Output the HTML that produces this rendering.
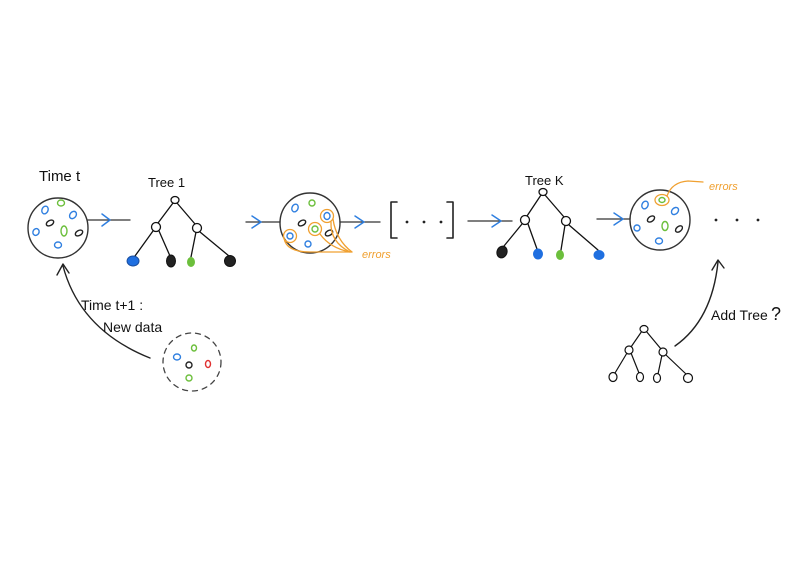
<!DOCTYPE html>
<html><head><meta charset="utf-8"><style>
html,body{margin:0;padding:0;background:#fff;}
svg{display:block;}
text{font-family:"Liberation Sans",sans-serif;}
</style></head><body>
<svg width="800" height="568" viewBox="0 0 800 568" xmlns="http://www.w3.org/2000/svg">
<rect width="800" height="568" fill="#fff"/>
<g fill="none" stroke-linecap="round" stroke-linejoin="round">
<!-- Circle 1 -->
<circle cx="58" cy="228" r="30" stroke="#333" stroke-width="1.4"/>
<g stroke-width="1.4">
<ellipse cx="45" cy="210" rx="3" ry="4" stroke="#2f7fe0" transform="rotate(25 45 210)"/>
<ellipse cx="61" cy="203" rx="3.5" ry="3" stroke="#6cbf3c"/>
<ellipse cx="73" cy="215" rx="3" ry="4" stroke="#2f7fe0" transform="rotate(40 73 215)"/>
<ellipse cx="50" cy="223" rx="4" ry="2.5" stroke="#222" transform="rotate(-30 50 223)"/>
<ellipse cx="64" cy="231" rx="3" ry="5" stroke="#6cbf3c"/>
<ellipse cx="79" cy="233" rx="4" ry="2.5" stroke="#222" transform="rotate(-30 79 233)"/>
<ellipse cx="36" cy="232" rx="3" ry="3.5" stroke="#2f7fe0" transform="rotate(30 36 232)"/>
<ellipse cx="58" cy="245" rx="3.5" ry="3" stroke="#2f7fe0"/>
</g>
<!-- connector 1 -->
<line x1="88" y1="220" x2="130" y2="220" stroke="#333" stroke-width="1.3"/>
<polyline points="102,214 110,220 102,226" stroke="#2f7fe0" stroke-width="1.5"/>
<!-- Tree 1 -->
<g stroke="#111" stroke-width="1.3">
<line x1="173" y1="203" x2="158" y2="223"/>
<line x1="177" y1="203" x2="195" y2="224"/>
<line x1="153" y1="231" x2="135" y2="256"/>
<line x1="159" y1="231" x2="170" y2="256"/>
<line x1="196" y1="232" x2="191" y2="257"/>
<line x1="200" y1="232" x2="229" y2="256"/>
<ellipse cx="175" cy="200" rx="4" ry="3.5" fill="#fff"/>
<ellipse cx="156" cy="227" rx="4.5" ry="4.5" fill="#fff"/>
<ellipse cx="197" cy="228" rx="4.5" ry="4.5" fill="#fff"/>
</g>
<ellipse cx="133" cy="261" rx="6" ry="5" fill="#1f6fe0" stroke="#1a4fa0" stroke-width="1"/>
<ellipse cx="171" cy="261" rx="4.5" ry="6" fill="#222" stroke="#111"/>
<ellipse cx="191" cy="262" rx="4" ry="5" fill="#6cbf3c"/>
<ellipse cx="230" cy="261" rx="5.5" ry="5.5" fill="#222" stroke="#111"/>
<!-- connector 2 -->
<line x1="246" y1="222" x2="280" y2="222" stroke="#333" stroke-width="1.3"/>
<polyline points="252,216 261,222 252,228" stroke="#2f7fe0" stroke-width="1.5"/>
<!-- Circle 2 -->
<circle cx="310" cy="223" r="30" stroke="#333" stroke-width="1.4"/>
<g stroke-width="1.4">
<ellipse cx="295" cy="208" rx="3" ry="4" stroke="#2f7fe0" transform="rotate(25 295 208)"/>
<ellipse cx="312" cy="203" rx="3" ry="3" stroke="#6cbf3c"/>
<ellipse cx="327" cy="216" rx="3" ry="3.5" stroke="#2f7fe0"/>
<ellipse cx="302" cy="223" rx="4" ry="2.5" stroke="#222" transform="rotate(-30 302 223)"/>
<ellipse cx="315" cy="229" rx="3" ry="3" stroke="#6cbf3c"/>
<ellipse cx="329" cy="233" rx="4" ry="2.5" stroke="#222" transform="rotate(-30 329 233)"/>
<ellipse cx="290" cy="236" rx="3" ry="3" stroke="#2f7fe0"/>
<ellipse cx="308" cy="244" rx="3" ry="3" stroke="#2f7fe0"/>
</g>
<g stroke="#f0a030" stroke-width="1.3">
<circle cx="327" cy="216" r="6.5"/>
<circle cx="315" cy="229" r="6.5"/>
<circle cx="290" cy="236" r="6.5"/>
<path d="M333,219 Q336,240 352,252"/>
<path d="M331,222 Q330,242 350,252"/>
<path d="M320,234 Q330,248 350,252"/>
<path d="M284,238 Q286,252 310,252 L352,252"/>
</g>
<text x="362" y="258" font-size="11" fill="#f0a030" font-style="italic">errors</text>
<!-- connector 3 -->
<line x1="340" y1="222" x2="380" y2="222" stroke="#333" stroke-width="1.3"/>
<polyline points="355,216 364,222 355,228" stroke="#2f7fe0" stroke-width="1.5"/>
<!-- bracket -->
<polyline points="397,202 391,202 391,238 397,238" stroke="#222" stroke-width="1.6"/>
<polyline points="447,202 453,202 453,238 447,238" stroke="#222" stroke-width="1.6"/>
<circle cx="407" cy="222" r="1.4" fill="#222" stroke="none"/>
<circle cx="424" cy="222" r="1.4" fill="#222" stroke="none"/>
<circle cx="441" cy="222" r="1.4" fill="#222" stroke="none"/>
<!-- connector 4 -->
<line x1="468" y1="221" x2="512" y2="221" stroke="#333" stroke-width="1.3"/>
<polyline points="492,215 501,221 492,227" stroke="#2f7fe0" stroke-width="1.5"/>
<!-- Tree K -->
<g stroke="#111" stroke-width="1.3">
<line x1="541" y1="195" x2="527" y2="216"/>
<line x1="545" y1="195" x2="564" y2="217"/>
<line x1="522" y1="224" x2="504" y2="246"/>
<line x1="528" y1="224" x2="537" y2="249"/>
<line x1="565" y1="225" x2="561" y2="250"/>
<line x1="569" y1="225" x2="598" y2="250"/>
<ellipse cx="543" cy="192" rx="4" ry="3.5" fill="#fff"/>
<ellipse cx="525" cy="220" rx="4.5" ry="4.5" fill="#fff"/>
<ellipse cx="566" cy="221" rx="4.5" ry="4.5" fill="#fff"/>
</g>
<ellipse cx="502" cy="252" rx="5" ry="6" fill="#222" stroke="#111" transform="rotate(20 502 252)"/>
<ellipse cx="538" cy="254" rx="5" ry="5.5" fill="#1f6fe0"/>
<ellipse cx="560" cy="255" rx="4" ry="5" fill="#6cbf3c"/>
<ellipse cx="599" cy="255" rx="5.5" ry="5" fill="#1f6fe0"/>
<!-- connector 5 -->
<line x1="597" y1="219" x2="630" y2="219" stroke="#333" stroke-width="1.3"/>
<polyline points="614,213 623,219 614,225" stroke="#2f7fe0" stroke-width="1.5"/>
<!-- Circle 4 -->
<circle cx="660" cy="220" r="30" stroke="#333" stroke-width="1.4"/>
<g stroke-width="1.4">
<ellipse cx="645" cy="205" rx="3" ry="4" stroke="#2f7fe0" transform="rotate(25 645 205)"/>
<ellipse cx="662" cy="200" rx="3" ry="2.5" stroke="#6cbf3c"/>
<ellipse cx="675" cy="211" rx="3" ry="4" stroke="#2f7fe0" transform="rotate(45 675 211)"/>
<ellipse cx="651" cy="219" rx="4" ry="2.5" stroke="#222" transform="rotate(-35 651 219)"/>
<ellipse cx="665" cy="226" rx="3" ry="4.5" stroke="#6cbf3c"/>
<ellipse cx="679" cy="229" rx="4" ry="2.5" stroke="#222" transform="rotate(-40 679 229)"/>
<ellipse cx="637" cy="228" rx="3" ry="3" stroke="#2f7fe0"/>
<ellipse cx="659" cy="241" rx="3.5" ry="3" stroke="#2f7fe0"/>
</g>
<ellipse cx="662" cy="200" rx="7" ry="5.5" stroke="#f0a030" stroke-width="1.3"/>
<path d="M667,196 Q672,182 688,181 L703,182" stroke="#f0a030" stroke-width="1.3"/>
<text x="709" y="190" font-size="11" fill="#f0a030" font-style="italic">errors</text>
<circle cx="716" cy="220" r="1.4" fill="#222" stroke="none"/>
<circle cx="737" cy="220" r="1.4" fill="#222" stroke="none"/>
<circle cx="758" cy="220" r="1.4" fill="#222" stroke="none"/>
<!-- Time t+1 arrow -->
<path d="M150,358 Q80,330 63,266" stroke="#222" stroke-width="1.4"/>
<polyline points="57,275 63,264 69,273" stroke="#222" stroke-width="1.4"/>
<!-- dashed circle -->
<circle cx="192" cy="362" r="29" stroke="#444" stroke-width="1.3" stroke-dasharray="5,5"/>
<g stroke-width="1.4">
<ellipse cx="177" cy="357" rx="3.5" ry="3" stroke="#2f7fe0"/>
<ellipse cx="194" cy="348" rx="2.5" ry="3" stroke="#6cbf3c"/>
<ellipse cx="189" cy="365" rx="3" ry="3" stroke="#222"/>
<ellipse cx="208" cy="364" rx="2.5" ry="3.5" stroke="#e03030"/>
<ellipse cx="189" cy="378" rx="3" ry="3" stroke="#6cbf3c"/>
</g>
<!-- Add Tree arrow -->
<path d="M675,346 Q712,320 718,262" stroke="#222" stroke-width="1.4"/>
<polyline points="712,270 718,260 724,268" stroke="#222" stroke-width="1.4"/>
<!-- small tree -->
<g stroke="#111" stroke-width="1.2">
<line x1="642" y1="331" x2="631" y2="347"/>
<line x1="646" y1="331" x2="661" y2="349"/>
<line x1="627" y1="353" x2="615" y2="373"/>
<line x1="631" y1="353" x2="639" y2="373"/>
<line x1="662" y1="355" x2="658" y2="374"/>
<line x1="666" y1="355" x2="686" y2="374"/>
<ellipse cx="644" cy="329" rx="4" ry="3.5" fill="#fff"/>
<ellipse cx="629" cy="350" rx="4" ry="4" fill="#fff"/>
<ellipse cx="663" cy="352" rx="4" ry="4" fill="#fff"/>
<ellipse cx="613" cy="377" rx="4" ry="4.5" fill="#fff"/>
<ellipse cx="640" cy="377" rx="3.5" ry="4.5" fill="#fff"/>
<ellipse cx="657" cy="378" rx="3.5" ry="4.5" fill="#fff"/>
<ellipse cx="688" cy="378" rx="4.5" ry="4.5" fill="#fff"/>
</g>
</g>
<!-- Labels -->
<text x="39" y="181" font-size="15" fill="#111">Time t</text>
<text x="148" y="187" font-size="13" fill="#111">Tree 1</text>
<text x="525" y="185" font-size="13" fill="#111">Tree K</text>
<text x="81" y="310" font-size="14" fill="#111">Time t+1 :</text>
<text x="103" y="332" font-size="14" fill="#111">New data</text>
<text x="711" y="320" font-size="14" fill="#111">Add Tree</text>
<text x="771" y="320" font-size="18" fill="#111">?</text>
</svg>
</body></html>
